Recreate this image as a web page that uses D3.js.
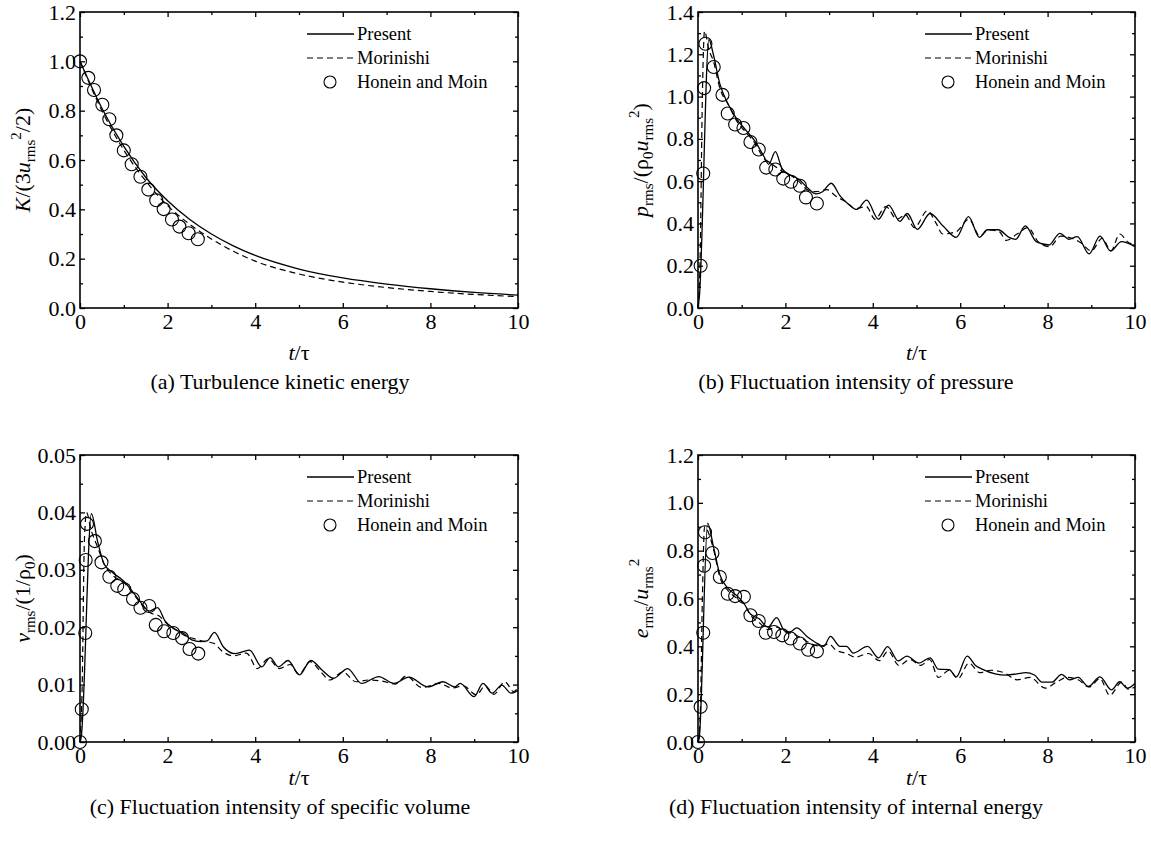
<!DOCTYPE html>
<html>
<head>
<meta charset="utf-8">
<script src="https://cdn.jsdelivr.net/npm/d3@7"></script>
<style>
  body { margin: 0; background: #fff; }
  svg { display: block; font-family: "Liberation Serif", "Times New Roman", serif; }
</style>
</head>
<body>
<svg id="fig" width="1151" height="847"></svg>
<script>
// ---- data: [t/tau, value] ----
const xMajor = [0, 2, 4, 6, 8, 10];
const xMinor = [1, 3, 5, 7, 9];

// (a) turbulence kinetic energy
const aPresent = [[0,1.0],[0.5,0.81],[1,0.655],[1.5,0.53],[2,0.435],[2.5,0.36],[3,0.30],[3.5,0.252],[4,0.213],[5,0.158],[6,0.122],[7,0.097],[8,0.078],[9,0.063],[10,0.052]];
const aMorinishi = [[0,1.0],[0.5,0.80],[1,0.64],[1.5,0.515],[2,0.415],[2.5,0.34],[3,0.28],[3.5,0.23],[4,0.19],[5,0.138],[6,0.105],[7,0.083],[8,0.067],[9,0.055],[10,0.046]];
const aHonein = [[0,1.0],[0.19,0.933],[0.32,0.884],[0.51,0.824],[0.67,0.765],[0.83,0.70],[1.0,0.639],[1.18,0.583],[1.38,0.532],[1.56,0.48],[1.74,0.437],[1.91,0.401],[2.1,0.359],[2.27,0.33],[2.48,0.303],[2.69,0.279]];

// (b) pressure
const bPresent = [[0,0],[0.03,0.05],[0.25,1.27],[0.35,1.2],[0.5,1.06],[0.7,0.96],[0.9,0.89],[1.1,0.84],[1.3,0.79],[1.5,0.72],[1.62,0.68],[1.77,0.74],[1.92,0.66],[2.1,0.63],[2.3,0.61],[2.5,0.57],[2.7,0.54],[2.85,0.55],[3.05,0.59],[3.25,0.53],[3.45,0.49],[3.63,0.466],[3.86,0.51],[4.13,0.42],[4.36,0.487],[4.62,0.41],[4.79,0.447],[5.02,0.372],[5.31,0.447],[5.62,0.385],[5.91,0.334],[6.19,0.432],[6.44,0.334],[6.62,0.37],[6.87,0.37],[7.12,0.334],[7.27,0.325],[7.49,0.388],[7.74,0.314],[8.03,0.298],[8.28,0.353],[8.49,0.325],[8.68,0.338],[8.95,0.256],[9.2,0.34],[9.44,0.27],[9.69,0.314],[10,0.29]];
const bMorinishi = [[0,0],[0.05,0.25],[0.1,1.0],[0.15,1.31],[0.25,1.22],[0.35,1.17],[0.5,1.04],[0.7,0.96],[0.9,0.88],[1.1,0.83],[1.3,0.78],[1.5,0.71],[1.7,0.68],[1.9,0.65],[2.1,0.63],[2.3,0.6],[2.5,0.56],[2.7,0.55],[2.95,0.56],[3.15,0.53],[3.4,0.5],[3.6,0.47],[3.85,0.48],[4.05,0.42],[4.3,0.48],[4.55,0.42],[4.75,0.44],[4.95,0.38],[5.25,0.46],[5.45,0.4],[5.6,0.35],[5.9,0.36],[6.2,0.42],[6.45,0.34],[6.65,0.37],[6.9,0.36],[7.05,0.32],[7.3,0.35],[7.55,0.38],[7.8,0.31],[8.05,0.29],[8.3,0.34],[8.55,0.33],[8.75,0.31],[9.0,0.27],[9.25,0.33],[9.45,0.27],[9.65,0.35],[9.85,0.31],[10,0.3]];
const bHonein = [[0.06,0.2],[0.12,0.636],[0.14,1.04],[0.17,1.25],[0.36,1.14],[0.56,1.008],[0.68,0.92],[0.85,0.868],[1.04,0.851],[1.2,0.785],[1.39,0.75],[1.56,0.664],[1.77,0.655],[1.95,0.612],[2.13,0.597],[2.33,0.578],[2.47,0.523],[2.72,0.494]];

// (c) specific volume
const cPresent = [[0,0],[0.03,0.001],[0.26,0.0398],[0.4,0.035],[0.55,0.031],[0.75,0.0295],[1.0,0.028],[1.2,0.0262],[1.4,0.0242],[1.58,0.0228],[1.77,0.0234],[1.95,0.021],[2.15,0.0197],[2.35,0.019],[2.55,0.0178],[2.75,0.0175],[2.9,0.0176],[3.07,0.0191],[3.27,0.0166],[3.54,0.0154],[3.87,0.016],[4.15,0.0131],[4.34,0.0147],[4.53,0.0131],[4.75,0.0142],[5.01,0.0117],[5.27,0.0142],[5.53,0.0125],[5.79,0.0111],[6.11,0.0128],[6.43,0.0102],[6.82,0.0114],[7.17,0.0102],[7.51,0.0113],[7.94,0.0096],[8.29,0.0105],[8.55,0.0096],[8.68,0.0102],[9.0,0.0079],[9.2,0.0102],[9.41,0.0085],[9.63,0.0099],[9.84,0.0085],[10,0.009]];
const cMorinishi = [[0,0],[0.05,0.01],[0.1,0.035],[0.15,0.04],[0.25,0.037],[0.4,0.034],[0.55,0.031],[0.75,0.029],[1.0,0.0278],[1.2,0.026],[1.4,0.024],[1.6,0.0225],[1.8,0.022],[2.0,0.0205],[2.2,0.0195],[2.4,0.0185],[2.6,0.018],[2.85,0.0175],[3.05,0.0172],[3.25,0.0158],[3.5,0.015],[3.8,0.0155],[4.05,0.0128],[4.3,0.0145],[4.55,0.0128],[4.8,0.0135],[5.0,0.0118],[5.25,0.014],[5.5,0.0122],[5.7,0.0108],[6.0,0.0122],[6.3,0.0105],[6.6,0.0108],[6.9,0.0106],[7.2,0.0101],[7.45,0.0115],[7.8,0.0095],[8.2,0.0102],[8.5,0.0094],[8.75,0.0098],[9.05,0.0082],[9.25,0.0098],[9.45,0.0083],[9.7,0.0105],[9.9,0.0088],[10,0.0095]];
const cHonein = [[0,0],[0.04,0.0057],[0.12,0.019],[0.13,0.0317],[0.16,0.038],[0.34,0.035],[0.49,0.0313],[0.67,0.0288],[0.85,0.0272],[1.01,0.0266],[1.21,0.0249],[1.38,0.0234],[1.58,0.0237],[1.73,0.0204],[1.92,0.0193],[2.13,0.019],[2.33,0.0181],[2.5,0.0162],[2.7,0.0154]];

// (d) internal energy
const dPresent = [[0,0],[0.03,0.02],[0.22,0.915],[0.35,0.82],[0.5,0.7],[0.7,0.64],[0.9,0.61],[1.05,0.58],[1.2,0.535],[1.4,0.515],[1.6,0.48],[1.8,0.52],[1.98,0.465],[2.1,0.46],[2.26,0.477],[2.5,0.44],[2.75,0.41],[2.88,0.4],[3.03,0.442],[3.25,0.4],[3.4,0.4],[3.55,0.372],[3.88,0.4],[4.13,0.352],[4.34,0.399],[4.58,0.339],[4.78,0.359],[5.05,0.33],[5.31,0.352],[5.5,0.305],[5.75,0.303],[5.91,0.272],[6.16,0.359],[6.35,0.32],[6.5,0.305],[6.8,0.285],[7.05,0.28],[7.3,0.285],[7.5,0.29],[7.7,0.28],[7.87,0.25],[8.1,0.25],[8.32,0.283],[8.5,0.26],[8.7,0.27],[8.93,0.232],[9.2,0.272],[9.46,0.218],[9.65,0.252],[9.82,0.225],[10,0.245]];
const dMorinishi = [[0,0],[0.05,0.1],[0.1,0.6],[0.15,0.9],[0.25,0.87],[0.35,0.81],[0.5,0.69],[0.7,0.63],[0.9,0.6],[1.05,0.58],[1.2,0.53],[1.4,0.5],[1.6,0.47],[1.8,0.48],[2.0,0.46],[2.2,0.45],[2.4,0.43],[2.6,0.41],[2.8,0.4],[3.0,0.41],[3.15,0.385],[3.4,0.37],[3.6,0.355],[3.9,0.37],[4.15,0.34],[4.35,0.38],[4.6,0.32],[4.85,0.345],[5.1,0.32],[5.3,0.345],[5.5,0.27],[5.75,0.3],[5.95,0.265],[6.2,0.33],[6.45,0.29],[6.7,0.3],[7.0,0.29],[7.3,0.26],[7.6,0.27],[7.95,0.225],[8.2,0.25],[8.45,0.27],[8.7,0.26],[8.95,0.23],[9.2,0.265],[9.42,0.195],[9.7,0.25],[9.85,0.22],[10,0.23]];
const dHonein = [[0,0],[0.06,0.147],[0.12,0.457],[0.14,0.737],[0.16,0.877],[0.33,0.79],[0.5,0.69],[0.68,0.62],[0.85,0.61],[1.05,0.607],[1.2,0.53],[1.39,0.506],[1.55,0.457],[1.74,0.46],[1.93,0.446],[2.12,0.433],[2.33,0.412],[2.52,0.386],[2.72,0.379]];

const legendNames = ["Present", "Morinishi", "Honein and Moin"];

// y-axis titles as [text, style] pieces
const aYLabel = [["K","i"],["/(3"],["u","i"],["rms","sub"],["2","sup"],["/2)"]];
const bYLabel = [["p","i"],["rms","sub"],["/(\u03c1"],["0","sub"],["u","i"],["rms","sub"],["2","sup"],[")"]];
const cYLabel = [["v","i"],["rms","sub"],["/(1/\u03c1"],["0","sub"],[")"]];
const dYLabel = [["e","i"],["rms","sub"],["/"],["u","i"],["rms","sub"],["2","sup"]];

const panels = [
  { left: 80, top: 12, width: 438, height: 296, yMax: 1.2, yStep: 0.2, fmt: ".1f",
    present: aPresent, morinishi: aMorinishi, honein: aHonein, ylabel: aYLabel,
    caption: "(a) Turbulence kinetic energy", capX: 280, titleY: 352, capY: 381 },
  { left: 698, top: 12, width: 437, height: 296, yMax: 1.4, yStep: 0.2, fmt: ".1f",
    present: bPresent, morinishi: bMorinishi, honein: bHonein, ylabel: bYLabel,
    caption: "(b) Fluctuation intensity of pressure", capX: 856, titleY: 352, capY: 381 },
  { left: 80, top: 455, width: 438, height: 287, yMax: 0.05, yStep: 0.01, fmt: ".2f",
    present: cPresent, morinishi: cMorinishi, honein: cHonein, ylabel: cYLabel,
    caption: "(c) Fluctuation intensity of specific volume", capX: 280, titleY: 777, capY: 806 },
  { left: 698, top: 455, width: 437, height: 287, yMax: 1.2, yStep: 0.2, fmt: ".1f",
    present: dPresent, morinishi: dMorinishi, honein: dHonein, ylabel: dYLabel,
    caption: "(d) Fluctuation intensity of internal energy", capX: 856, titleY: 777, capY: 806 }
];

const svg = d3.select("#fig");

function styleAxis(sel) {
  sel.attr("font-family", null).attr("font-size", 22);
  sel.select(".domain").remove();
  sel.selectAll(".tick line").attr("stroke", "#000").attr("stroke-width", 1.3);
  sel.selectAll(".tick text").attr("fill", "#000");
}

function drawPanel(p) {
  const g = svg.append("g").attr("transform", `translate(${p.left},${p.top})`);
  const x = d3.scaleLinear().domain([0, 10]).range([0, p.width]);
  const y = d3.scaleLinear().domain([0, p.yMax]).range([p.height, 0]);

  const n = Math.round(p.yMax / p.yStep);
  const yMajor = d3.range(n + 1).map(i => i * p.yStep);
  const yMinor = d3.range(n).map(i => (i + 0.5) * p.yStep);

  // ticks on all four sides, pointing inward
  g.append("g").attr("transform", `translate(0,${p.height})`)
    .call(d3.axisBottom(x).tickValues(xMajor).tickSize(-5).tickPadding(5).tickFormat(d3.format("d")))
    .call(styleAxis);
  g.append("g").attr("transform", `translate(0,${p.height})`)
    .call(d3.axisBottom(x).tickValues(xMinor).tickSize(-3).tickFormat(""))
    .call(styleAxis);
  g.append("g")
    .call(d3.axisTop(x).tickValues(xMajor).tickSize(-5).tickFormat(""))
    .call(styleAxis);
  g.append("g")
    .call(d3.axisTop(x).tickValues(xMinor).tickSize(-3).tickFormat(""))
    .call(styleAxis);
  g.append("g")
    .call(d3.axisLeft(y).tickValues(yMajor).tickSize(-5).tickPadding(4).tickFormat(d3.format(p.fmt)))
    .call(styleAxis);
  g.append("g")
    .call(d3.axisLeft(y).tickValues(yMinor).tickSize(-3).tickFormat(""))
    .call(styleAxis);
  g.append("g").attr("transform", `translate(${p.width},0)`)
    .call(d3.axisRight(y).tickValues(yMajor).tickSize(-5).tickFormat(""))
    .call(styleAxis);
  g.append("g").attr("transform", `translate(${p.width},0)`)
    .call(d3.axisRight(y).tickValues(yMinor).tickSize(-3).tickFormat(""))
    .call(styleAxis);

  g.append("rect")
    .attr("width", p.width).attr("height", p.height)
    .attr("fill", "none").attr("stroke", "#000").attr("stroke-width", 1.6);

  const line = d3.line()
    .x(d => x(d[0]))
    .y(d => y(d[1]))
    .curve(d3.curveMonotoneX);

  g.append("path").datum(p.morinishi)
    .attr("d", line).attr("fill", "none").attr("stroke", "#000")
    .attr("stroke-width", 1.2).attr("stroke-dasharray", "6,4");
  g.append("path").datum(p.present)
    .attr("d", line).attr("fill", "none").attr("stroke", "#000")
    .attr("stroke-width", 1.3);

  g.selectAll("circle.pt").data(p.honein).join("circle")
    .attr("class", "pt")
    .attr("cx", d => x(d[0])).attr("cy", d => y(d[1]))
    .attr("r", 6.5).attr("fill", "none").attr("stroke", "#000").attr("stroke-width", 1.1);

  // legend
  const lg = g.append("g").attr("transform", "translate(227,0)");
  const rows = [22, 46, 70];
  lg.append("line").attr("x1", 0).attr("x2", 47).attr("y1", rows[0]).attr("y2", rows[0])
    .attr("stroke", "#000").attr("stroke-width", 1.3);
  lg.append("line").attr("x1", 0).attr("x2", 47).attr("y1", rows[1]).attr("y2", rows[1])
    .attr("stroke", "#000").attr("stroke-width", 1.2).attr("stroke-dasharray", "6,4");
  lg.append("circle").attr("cx", 23).attr("cy", rows[2]).attr("r", 6)
    .attr("fill", "none").attr("stroke", "#000").attr("stroke-width", 1.1);
  lg.selectAll("text").data(legendNames).join("text")
    .attr("x", 50).attr("y", (d, i) => rows[i]).attr("dy", "0.35em")
    .attr("font-size", 18.5).text(d => d);

  // y title
  const yt = g.append("text")
    .attr("transform", `translate(-50,${p.height / 2}) rotate(-90)`)
    .attr("text-anchor", "middle").attr("font-size", 22);
  let shift = 0;
  p.ylabel.forEach(([s, k]) => {
    const target = k === "sub" ? 5 : k === "sup" ? -9 : 0;
    yt.append("tspan")
      .attr("dy", target - shift)
      .attr("font-size", k === "sub" || k === "sup" ? 15 : 22)
      .attr("font-style", k === "i" ? "italic" : null)
      .text(s);
    shift = target;
  });

  // x title
  const xt = svg.append("text")
    .attr("x", p.left + p.width / 2).attr("y", p.titleY).attr("dy", "0.35em")
    .attr("text-anchor", "middle").attr("font-size", 22);
  xt.append("tspan").attr("font-style", "italic").text("t");
  xt.append("tspan").text("/\u03c4");

  svg.append("text")
    .attr("x", p.capX).attr("y", p.capY).attr("dy", "0.35em")
    .attr("text-anchor", "middle").attr("font-size", 22)
    .text(p.caption);
}

panels.forEach(drawPanel);
</script>
</body>
</html>
